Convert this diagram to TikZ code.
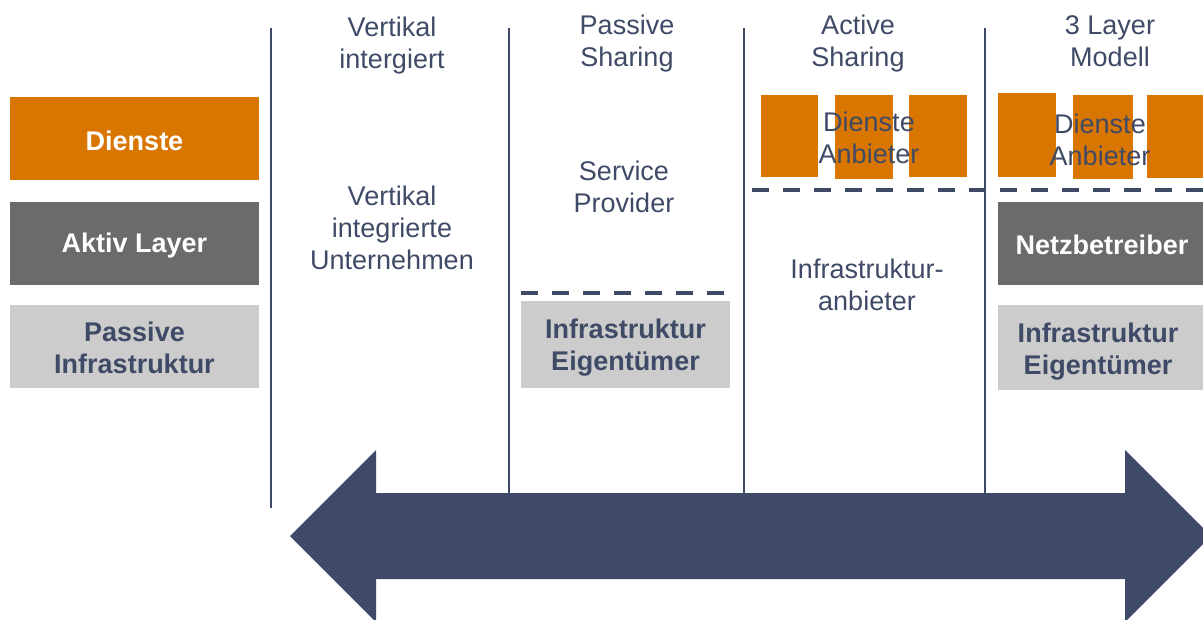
\documentclass[tikz,border=0pt]{standalone}
\usepackage{fontspec}
\setmainfont{Liberation Sans}
\definecolor{orng}{RGB}{217,118,0}
\definecolor{dgray}{RGB}{107,107,107}
\definecolor{lgray}{RGB}{204,204,204}
\definecolor{slate}{RGB}{62,74,102}
\tikzset{
  box/.style={inner sep=0pt, outer sep=0pt},
  txt/.style={inner sep=0pt, align=center, text=slate, font=\fontsize{27}{32}\selectfont},
  btxt/.style={inner sep=0pt, align=center, font=\fontsize{27}{32}\selectfont\bfseries},
  vline/.style={draw=slate, line width=2pt},
  dline/.style={draw=slate, line width=4pt, dash pattern=on 17pt off 14pt},
}
\begin{document}
\begin{tikzpicture}[x=1pt,y=-1pt]
\useasboundingbox (0,0) rectangle (1203,619);
\clip (0,0) rectangle (1203,619);
% left legend boxes
\node[box, fill=orng, minimum width=249, minimum height=83] (dienste) at (134.5,138.5) {};
\node[btxt, text=white] (dienste-t) at (134.5,140.5) {Dienste};
\node[box, fill=dgray, minimum width=249, minimum height=83] (aktiv) at (134.5,243.5) {};
\node[btxt, text=white] (aktiv-t) at (134.5,245.5) {Aktiv Layer};
\node[box, fill=lgray, minimum width=249, minimum height=83] (passiv) at (134.5,346.5) {};
\node[btxt, text=slate] (passiv-t) at (134.5,348) {Passive\\Infrastruktur};
% vertical separators
\coordinate (v1t) at (271,28); \coordinate (v1b) at (271,508);
\coordinate (v2t) at (509,28); \coordinate (v2b) at (509,500);
\coordinate (v3t) at (744,28); \coordinate (v3b) at (744,500);
\coordinate (v4t) at (985,28); \coordinate (v4b) at (985,500);
\draw[vline, line width=2.5pt] (v1t) -- (v1b);
\draw[vline] (v2t) -- (v2b);
\draw[vline] (v3t) -- (v3b);
\draw[vline] (v4t) -- (v4b);
% headers
\node[txt] (h1) at (392,46) {Vertikal\\intergiert};
\node[txt] (h2) at (627,44) {Passive\\Sharing};
\node[txt] (h3) at (858,44) {Active\\Sharing};
\node[txt] (h4) at (1110,41) {3 Layer\\Modell};
% column 1
\node[txt] (t1) at (392,228) {Vertikal\\integrierte\\Unternehmen};
% column 2
\node[txt] (t2) at (624,187) {Service\\Provider};
\coordinate (d1a) at (521,293); \coordinate (d1b) at (730,293);
\draw[dline] (d1a) -- (d1b);
\node[box, fill=lgray, minimum width=209, minimum height=87] (eig2) at (625.5,344.5) {};
\node[btxt, text=slate] (eig2-t) at (625.5,348) {Infrastruktur\\Eigentümer};
% column 3
\node[box, fill=orng, minimum width=57, minimum height=82] (o31) at (789.5,136) {};
\node[box, fill=orng, minimum width=58, minimum height=84] (o32) at (864,137) {};
\node[box, fill=orng, minimum width=58, minimum height=82] (o33) at (938,136) {};
\node[txt] (t3) at (869,138) {Dienste\\Anbieter};
\node[txt] (t5) at (867,285) {Infrastruktur-\\anbieter};
% column 4
\node[box, fill=orng, minimum width=58, minimum height=84] (o41) at (1027,135) {};
\node[box, fill=orng, minimum width=60, minimum height=84] (o42) at (1103,137) {};
\node[box, fill=orng, minimum width=63, minimum height=83] (o43) at (1178.5,136.5) {};
\node[txt] (t4) at (1100,140) {Dienste\\Anbieter};
\coordinate (d2a) at (752,190); \coordinate (d2b) at (1210,190);
\draw[dline] (d2a) -- (d2b);
\node[box, fill=dgray, minimum width=212, minimum height=83] (netz) at (1104,243.5) {};
\node[btxt, text=white] (netz-t) at (1102,245) {Netzbetreiber};
\node[box, fill=lgray, minimum width=212, minimum height=85] (eig4) at (1104,347.5) {};
\node[btxt, text=slate] (eig4-t) at (1098,352) {Infrastruktur\\Eigentümer};
% big double arrow
\fill[slate] (290,536) -- (376,450) -- (376,493) -- (1125,493) -- (1125,450) -- (1211,536)
  -- (1125,622) -- (1125,579) -- (376,579) -- (376,622) -- cycle;
\end{tikzpicture}
\end{document}
